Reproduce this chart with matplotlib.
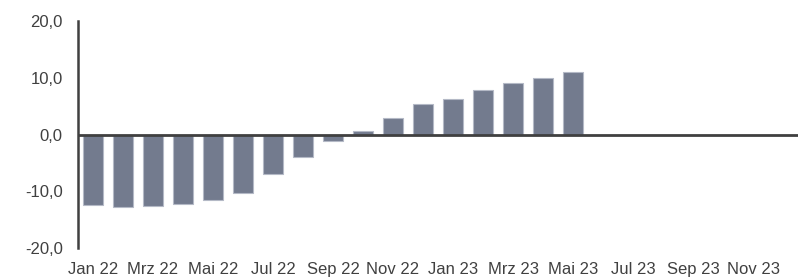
import matplotlib.pyplot as plt

# monthly values, Jan 22 .. Dez 23 (bars only until Mai 23)
months = ['Jan 22', 'Feb 22', 'Mrz 22', 'Apr 22', 'Mai 22', 'Jun 22',
          'Jul 22', 'Aug 22', 'Sep 22', 'Okt 22', 'Nov 22', 'Dez 22',
          'Jan 23', 'Feb 23', 'Mrz 23', 'Apr 23', 'Mai 23', 'Jun 23',
          'Jul 23', 'Aug 23', 'Sep 23', 'Okt 23', 'Nov 23', 'Dez 23']
values = [-12.4, -12.8, -12.6, -12.2, -11.5, -10.3, -6.9, -4.0, -1.2, 0.6,
          2.9, 5.4, 6.3, 7.8, 9.0, 10.0, 11.0]
yticks = [-20, -10, 0, 10, 20]
ytick_labels = ['-20,0', '-10,0', '0,0', '10,0', '20,0']

plt.rcParams['font.family'] = ['Liberation Sans', 'DejaVu Sans']
fig = plt.figure(figsize=(8.03, 2.79), dpi=100)
ax = fig.add_axes([0.0971, 0.1111, 0.8967, 0.8136])

ax.bar(range(len(values)), values, width=0.667, color='#737b8e',
       edgecolor='#b4b9c6', linewidth=0.8, zorder=2)
ax.axhline(0, color='#404040', linewidth=2, zorder=3)

ax.set_xlim(-0.5, len(months) - 0.5)
ax.set_ylim(-20, 20)
ax.set_yticks(yticks)
ax.set_yticklabels(ytick_labels)
ax.set_xticks(range(0, len(months), 2))
ax.set_xticklabels(months[::2])
ax.tick_params(axis='y', length=0, pad=11, labelsize=12, labelcolor='#404040')
ax.tick_params(axis='x', length=0, pad=10, labelsize=12, labelcolor='#404040')

ax.spines['left'].set_color('#404040')
ax.spines['left'].set_linewidth(1.8)
ax.spines['right'].set_visible(False)
ax.spines['top'].set_visible(False)
ax.spines['bottom'].set_visible(False)

fig.savefig('out.png', dpi=100)
